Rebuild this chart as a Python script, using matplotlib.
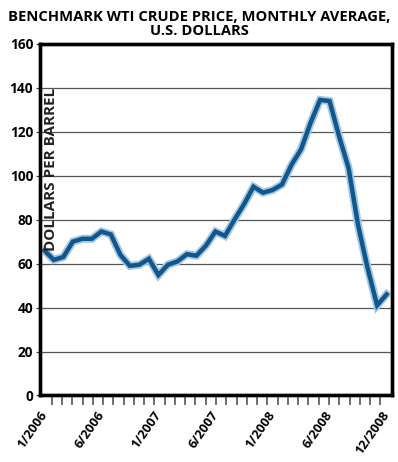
import matplotlib.pyplot as plt
import matplotlib.patheffects as pe

plt.rcParams['font.family'] = ['Open Sans', 'DejaVu Sans']

# monthly average WTI price, 1/2006 .. 1/2009
prices_2006 = [66, 61.7, 63, 70, 71.3, 71.3, 74.6, 73.3, 64, 59, 59.5, 62.2]
prices_2007 = [54.8, 59.5, 61, 64.3, 63.6, 68.2, 74.6, 72.6, 80, 87, 95, 92.3]
prices_2008 = [93.5, 96, 105, 112, 124, 134.5, 134, 118, 103.5, 77.5, 58, 41]
prices_2009 = [46]
prices = prices_2006 + prices_2007 + prices_2008 + prices_2009
months = list(range(len(prices)))

tick_labels = ["1/2006", "6/2006", "1/2007", "6/2007", "1/2008", "6/2008", "12/2008"]
label_months = [0, 6, 12, 18, 24, 30, 36]
y_ticks = [0, 20, 40, 60, 80, 100, 120, 140, 160]

fig = plt.figure(figsize=(3.98, 4.62), dpi=100)
ax = fig.add_axes([0.1005, 0.144, 0.8845, 0.761])

ax.plot(months, prices, color="#12578c", lw=3.2, solid_joinstyle="miter",
        path_effects=[pe.Stroke(linewidth=5.8, foreground="#a6c8e3"), pe.Normal()],
        zorder=3)

ax.set_xlim(-0.45, 36.57)
ax.set_ylim(0, 160)

ax.set_yticks(y_ticks)
ax.set_yticklabels([str(v) for v in y_ticks], fontsize=9.8, fontweight="bold")
ax.tick_params(axis="y", length=3, width=0.9, color="#444444", pad=2)
for v in y_ticks[1:-1]:
    ax.axhline(v, color="#555555", lw=0.9, zorder=1)

ax.set_xticks(label_months)
ax.set_xticklabels(tick_labels, fontsize=9.3, fontweight="bold", rotation=55,
                   ha="right", va="center", rotation_mode="anchor")
ax.tick_params(axis="x", length=0, pad=12)

# decorative month tick marks along the bottom
tw = ax.twiny()
tw.set_xlim(-1.14, 33.14)
tw.set_xticks(range(33))
tw.set_xticklabels([])
tw.xaxis.set_ticks_position("bottom")
tw.tick_params(axis="x", length=7, width=1.2, color="#555555", direction="out")

for a in (ax, tw):
    for s in a.spines.values():
        s.set_linewidth(2.4)
        s.set_color("black")

ax.text(0.01, 0.644, "DOLLARS PER BARREL", transform=ax.transAxes, rotation=90,
        ha="left", va="center", fontsize=11, fontweight="bold", color="#222222")

fig.text(0.5, 0.978, "BENCHMARK WTI CRUDE PRICE, MONTHLY AVERAGE,\nU.S. DOLLARS",
         ha="center", va="top", fontsize=10.6, fontweight="bold", linespacing=0.95)

fig.savefig("out.png", dpi=100)
